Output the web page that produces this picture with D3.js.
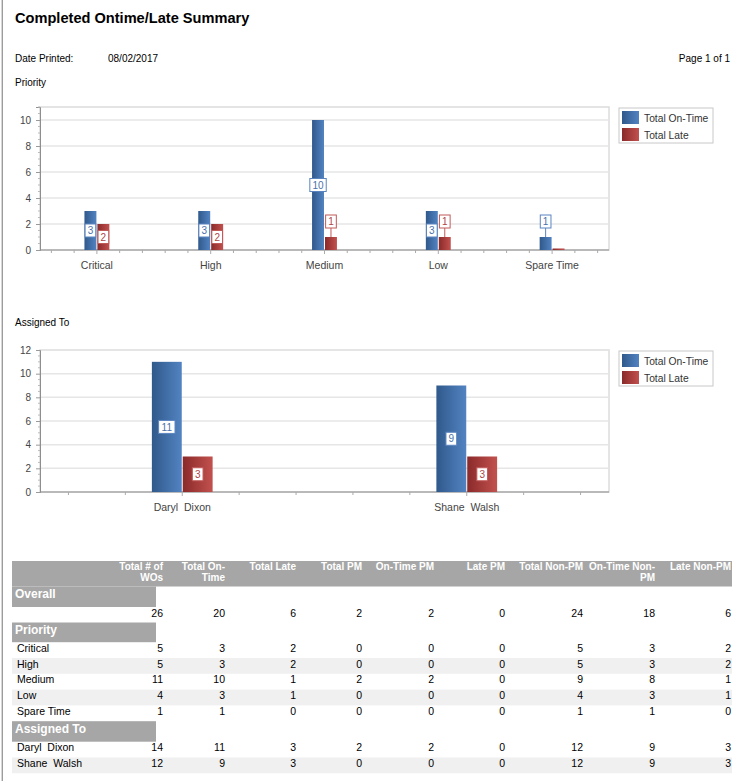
<!DOCTYPE html>
<html>
<head>
<meta charset="utf-8">
<script src="https://cdnjs.cloudflare.com/ajax/libs/d3/7.8.5/d3.min.js"></script>
<style>
  body { margin: 0; background: #fff; }
  svg { display: block; font-family: "Liberation Sans", Arial, sans-serif; }
  svg text { white-space: pre; }
</style>
</head>
<body>
<div id="page"></div>
<script>
// chart data
var priorityCats = ["Critical", "High", "Medium", "Low", "Spare Time"];
var priorityOnTime = [3, 3, 10, 3, 1];
var priorityLate = [2, 2, 1, 1, 0];

var assignedCats = ["Daryl  Dixon", "Shane  Walsh"];
var assignedOnTime = [11, 9];
var assignedLate = [3, 3];

var seriesNames = ["Total On-Time", "Total Late"];

// table data
var tableHeaders = [["Total # of", "WOs"], ["Total On-", "Time"], ["Total Late"], ["Total PM"],
  ["On-Time PM"], ["Late PM"], ["Total Non-PM"], ["On-Time Non-", "PM"], ["Late Non-PM"]];
var overallValues = [26, 20, 6, 2, 2, 0, 24, 18, 6];
var priorityRowNames = ["Critical", "High", "Medium", "Low", "Spare Time"];
var priorityRowValues = [
  [5, 3, 2, 0, 0, 0, 5, 3, 2],
  [5, 3, 2, 0, 0, 0, 5, 3, 2],
  [11, 10, 1, 2, 2, 0, 9, 8, 1],
  [4, 3, 1, 0, 0, 0, 4, 3, 1],
  [1, 1, 0, 0, 0, 0, 1, 1, 0]
];
var assignedRowNames = ["Daryl  Dixon", "Shane  Walsh"];
var assignedRowValues = [
  [14, 11, 3, 2, 2, 0, 12, 9, 3],
  [12, 9, 3, 0, 0, 0, 12, 9, 3]
];

var W = 741, H = 781;
var svg = d3.select("#page").append("svg").attr("width", W).attr("height", H);

var defs = svg.append("defs");
function grad(id, c1, c2) {
  var lg = defs.append("linearGradient").attr("id", id).attr("x1", 0).attr("x2", 1).attr("y1", 0).attr("y2", 0);
  lg.append("stop").attr("offset", "0%").attr("stop-color", c1);
  lg.append("stop").attr("offset", "100%").attr("stop-color", c2);
}
grad("gBlue", "#30598b", "#5283c2");
grad("gRed", "#8a2a2a", "#c2514e");

var blueEdge = "#5b84bf", redEdge = "#c05a58";
var blueText = "#4a72aa", redText = "#b04444";

// page border on the left
svg.append("line").attr("x1", 2.3).attr("x2", 2.3).attr("y1", 0).attr("y2", H)
  .attr("stroke", "#9c9c9c").attr("stroke-width", 1.4);

// header texts
svg.append("text").attr("x", 15).attr("y", 23).attr("font-size", 14.6).attr("font-weight", "bold")
  .attr("fill", "#000").text("Completed Ontime/Late Summary");
svg.append("text").attr("x", 15).attr("y", 62).attr("font-size", 10).text("Date Printed:");
svg.append("text").attr("x", 108).attr("y", 62).attr("font-size", 10).text("08/02/2017");
svg.append("text").attr("x", 730).attr("y", 62).attr("font-size", 10).attr("text-anchor", "end").text("Page 1 of 1");
svg.append("text").attr("x", 15).attr("y", 86).attr("font-size", 10).text("Priority");
svg.append("text").attr("x", 15).attr("y", 326).attr("font-size", 10).text("Assigned To");

function drawChart(cats, onTime, late, yMax, top, bottom) {
  var left = 40, right = 609;
  var x = d3.scaleBand().domain(cats).range([left, right]);
  var y = d3.scaleLinear().domain([0, yMax]).range([bottom, top]);
  var g = svg.append("g");
  var bw = x.bandwidth();
  var barW = bw * 0.105;

  // frame + grid
  g.append("rect").attr("x", left).attr("y", top).attr("width", right - left).attr("height", bottom - top)
    .attr("fill", "none").attr("stroke", "#dcdcdc").attr("stroke-width", 1.5);
  var majors = y.ticks(6);
  g.selectAll(".grid").data(majors.filter(function(d) { return d > 0; })).enter().append("line")
    .attr("x1", left).attr("x2", right).attr("y1", function(d) { return y(d); }).attr("y2", function(d) { return y(d); })
    .attr("stroke", "#e6e6e6").attr("stroke-width", 1.5);

  // y axis
  var yAxis = d3.axisLeft(y).tickValues(majors).tickSize(4).tickPadding(5);
  var ya = g.append("g").attr("transform", "translate(" + left + ",0)").call(yAxis);
  ya.select(".domain").attr("stroke", "#8e8e8e");
  ya.selectAll(".tick line").attr("stroke", "#9a9a9a");
  ya.selectAll(".tick text").attr("font-size", 10).attr("fill", "#444").attr("font-family", "Liberation Sans, Arial, sans-serif");
  var minors = d3.range(0, yMax + 0.001, 0.5).filter(function(d) { return majors.indexOf(d) < 0; });
  g.selectAll(".ymin").data(minors).enter().append("line")
    .attr("x1", left - 2).attr("x2", left).attr("y1", function(d) { return y(d); }).attr("y2", function(d) { return y(d); })
    .attr("stroke", "#bbb");

  // x axis
  g.append("line").attr("x1", left).attr("x2", right).attr("y1", bottom).attr("y2", bottom)
    .attr("stroke", "#8e8e8e").attr("stroke-width", 1.2);
  cats.forEach(function(c) {
    for (var k = 0; k < 5; k++) {
      var tx = x(c) + (k + 0.5) * bw / 5;
      g.append("line").attr("x1", tx).attr("x2", tx).attr("y1", bottom).attr("y2", bottom + (k === 2 ? 4 : 3))
        .attr("stroke", "#aaa");
    }
    g.append("text").attr("x", x(c) + bw / 2).attr("y", bottom + 19).attr("text-anchor", "middle")
      .attr("font-size", 10.5).attr("fill", "#444").text(c);
  });

  // bars
  var series = [
    { vals: onTime, fill: "url(#gBlue)", edge: blueEdge, txt: blueText, off: -barW - 0.5 },
    { vals: late, fill: "url(#gRed)", edge: redEdge, txt: redText, off: 0.5 }
  ];
  series.forEach(function(s) {
    g.selectAll(null).data(cats).enter().append("rect")
      .attr("x", function(c) { return x(c) + bw / 2 + s.off; })
      .attr("y", function(c, i) { return Math.min(y(s.vals[i]), bottom - 1.5); })
      .attr("width", barW)
      .attr("height", function(c, i) { return Math.max(bottom - y(s.vals[i]), 1.5); })
      .attr("fill", s.fill);
  });

  // value labels
  series.forEach(function(s) {
    cats.forEach(function(c, i) {
      var v = s.vals[i];
      if (v === 0) return;
      var cx = x(c) + bw / 2 + s.off + barW / 2;
      var barTop = y(v);
      var txt = String(v);
      var bwid = txt.length * 5.7 + 5, bh = 13;
      var cy;
      if (bottom - barTop >= bh + 6) {
        cy = (barTop + bottom) / 2;
      } else {
        cy = barTop - 9 - bh / 2;
        g.append("line").attr("x1", cx).attr("x2", cx).attr("y1", cy + bh / 2).attr("y2", barTop)
          .attr("stroke", s.edge);
      }
      g.append("rect").attr("x", cx - bwid / 2).attr("y", cy - bh / 2).attr("width", bwid).attr("height", bh)
        .attr("fill", "#fff").attr("stroke", s.edge).attr("stroke-width", 1);
      g.append("text").attr("x", cx).attr("y", cy + 3.6).attr("text-anchor", "middle")
        .attr("font-size", 10).attr("fill", s.txt).text(txt);
    });
  });

  // legend
  var lg = g.append("g").attr("transform", "translate(619," + (top + 1) + ")");
  lg.append("rect").attr("x", 0).attr("y", 0).attr("width", 94).attr("height", 35)
    .attr("fill", "#fff").attr("stroke", "#c8c8c8");
  var fills = ["url(#gBlue)", "url(#gRed)"];
  seriesNames.forEach(function(n, i) {
    lg.append("rect").attr("x", 3).attr("y", 3 + i * 17).attr("width", 17).attr("height", 13).attr("fill", fills[i]);
    lg.append("text").attr("x", 25).attr("y", 13.5 + i * 17).attr("font-size", 10.3).attr("fill", "#333").text(n);
  });
}

drawChart(priorityCats, priorityOnTime, priorityLate, 11, 107, 250);
drawChart(assignedCats, assignedOnTime, assignedLate, 12, 350, 492);

// table
var tLeft = 12, tRight = 732;
var col = d3.scaleOrdinal().domain(d3.range(9)).range([163, 225, 296, 362, 434, 505, 583, 655, 731]);
var tg = svg.append("g");

tg.append("rect").attr("x", tLeft).attr("y", 561).attr("width", tRight - tLeft).attr("height", 25.5).attr("fill", "#a6a6a6");
tableHeaders.forEach(function(lines, i) {
  lines.forEach(function(l, j) {
    tg.append("text").attr("x", col(i)).attr("y", 570 + j * 11).attr("text-anchor", "end")
      .attr("font-size", 10).attr("font-weight", "bold").attr("fill", "#fff").text(l);
  });
});

function section(name, top, h) {
  tg.append("rect").attr("x", tLeft).attr("y", top).attr("width", 144).attr("height", h).attr("fill", "#a6a6a6");
  tg.append("text").attr("x", 15).attr("y", top + 11.5).attr("font-size", 12).attr("font-weight", "bold")
    .attr("fill", "#fff").text(name);
}
function row(name, vals, top, shade) {
  if (shade) tg.append("rect").attr("x", tLeft).attr("y", top).attr("width", tRight - tLeft).attr("height", 15.8).attr("fill", "#f0f0f0");
  if (name) tg.append("text").attr("x", 17).attr("y", top + 9.5).attr("font-size", 10.5).attr("fill", "#000").text(name);
  tg.selectAll(null).data(vals).enter().append("text")
    .attr("x", function(d, i) { return col(i); }).attr("y", top + 9.5).attr("text-anchor", "end")
    .attr("font-size", 10.5).attr("fill", "#000").text(function(d) { return d; });
}

section("Overall", 586.5, 20.5);
row(null, overallValues, 607, false);
section("Priority", 622.5, 19.7);
priorityRowNames.forEach(function(n, i) { row(n, priorityRowValues[i], 642.2 + i * 15.8, i % 2 === 1); });
section("Assigned To", 721.2, 20.5);
assignedRowNames.forEach(function(n, i) { row(n, assignedRowValues[i], 741.7 + i * 15.8, i % 2 === 1); });
</script>
</body>
</html>
